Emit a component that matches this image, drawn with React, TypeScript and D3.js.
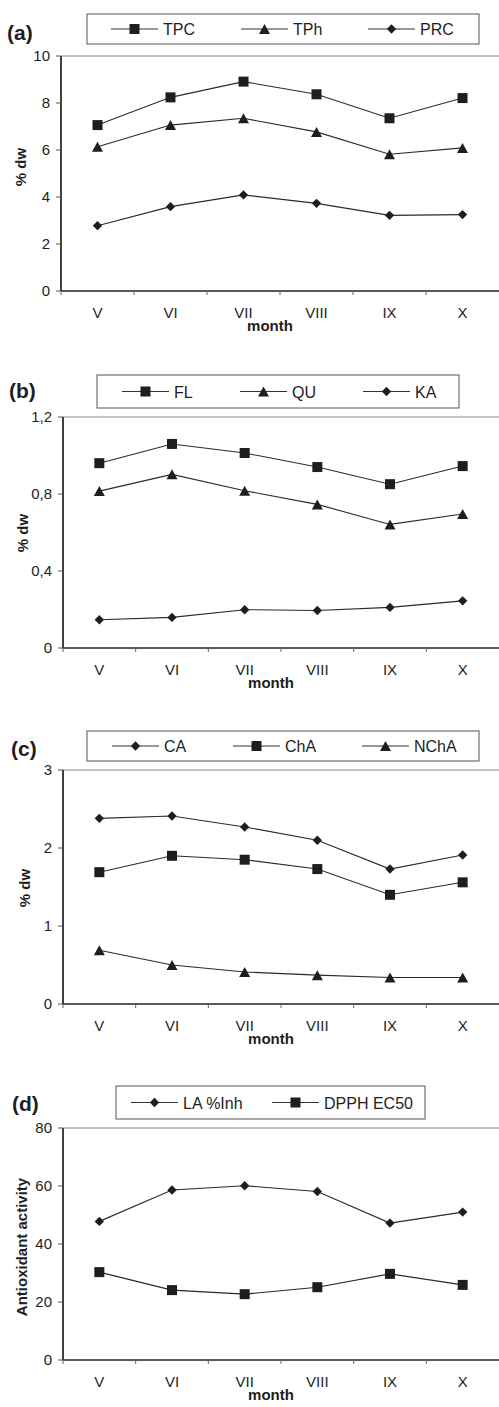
import React from 'react';
import * as d3 from 'd3';

const months = ["V", "VI", "VII", "VIII", "IX", "X"];

// panel (a)
const tpc = [7.06, 8.24, 8.91, 8.37, 7.35, 8.21];
const tph = [6.14, 7.06, 7.35, 6.77, 5.82, 6.09];
const prc = [2.78, 3.59, 4.09, 3.73, 3.22, 3.25];
const ticksA = [0, 2, 4, 6, 8, 10];

// panel (b)
const fl = [0.96, 1.06, 1.013, 0.94, 0.851, 0.945];
const qu = [0.815, 0.902, 0.817, 0.746, 0.642, 0.696];
const ka = [0.147, 0.159, 0.199, 0.195, 0.211, 0.245];
const ticksB = [0, 0.4, 0.8, 1.2];

// panel (c)
const ca = [2.38, 2.41, 2.27, 2.1, 1.73, 1.91];
const cha = [1.69, 1.9, 1.85, 1.73, 1.4, 1.56];
const ncha = [0.69, 0.5, 0.41, 0.37, 0.34, 0.34];
const ticksC = [0, 1, 2, 3];

// panel (d)
const la = [47.8, 58.6, 60.1, 58.1, 47.2, 51.0];
const dpph = [30.3, 24.1, 22.7, 25.1, 29.7, 25.9];
const ticksD = [0, 20, 40, 60, 80];

const FONT = "'Liberation Sans', Arial, sans-serif";
const INK = "#1e1e1e";

function Marker({ type, x, y }) {
    if (type === "square") {
        return <rect x={x - 5} y={y - 5} width={10} height={10} fill={INK} />;
    }
    if (type === "triangle") {
        // drawn around its box centre so the line meets it mid-height
        return <path d="M0,-5L5.5,5L-5.5,5Z" transform={`translate(${x},${y})`} fill={INK} />;
    }
    const p = d3.symbol(d3.symbolSquare, 44)();
    return <path d={p} transform={`translate(${x},${y}) rotate(45)`} fill={INK} />;
}

function Panel({ cfg }) {
    const { label, labelX, labelY, top, bottom, left, ticks, fmt, title, titleX, titleY,
        legend, series } = cfg;
    const right = 499;

    const x = d3.scaleBand().domain(months).range([left, right]).padding(0);
    const y = d3.scaleLinear().domain([ticks[0], ticks[ticks.length - 1]]).range([bottom, top]);
    const cx = (m) => x(m) + x.bandwidth() / 2;
    const line = d3.line().x((d, i) => cx(months[i])).y(d => y(d));
    const bounds = months.map(m => x(m));

    return (
        <g>
            <text x={labelX} y={labelY} fontSize={21} fontWeight="bold" fill={INK}>{label}</text>

            {/* legend */}
            <rect x={legend.x} y={legend.y} width={legend.w} height={legend.h}
                fill="white" stroke="#555" strokeWidth={1} />
            {series.map((s, i) => {
                const lx = legend.items[i];
                const ly = legend.y + legend.h / 2;
                return (
                    <g key={s.name}>
                        <line x1={lx} x2={lx + 47} y1={ly} y2={ly} stroke="#333" strokeWidth={1} />
                        <Marker type={s.marker} x={lx + 23.5} y={ly} />
                        <text x={lx + 52} y={ly + 6} fontSize={16} fill={INK}>{s.name}</text>
                    </g>
                );
            })}

            {/* frame */}
            <line x1={left} x2={right} y1={top} y2={top} stroke="#888" strokeWidth={1} />
            <line x1={left} x2={left} y1={top} y2={bottom} stroke="#111" strokeWidth={1.6} />
            <line x1={left} x2={right} y1={bottom} y2={bottom} stroke="#222" strokeWidth={1.6} />

            {ticks.map(t => (
                <g key={t}>
                    <line x1={left - 5} x2={left} y1={y(t)} y2={y(t)} stroke="#555" strokeWidth={1} />
                    <text x={left - 11} y={y(t)} dy="0.35em" textAnchor="end" fontSize={15} fill={INK}>
                        {fmt(t)}
                    </text>
                </g>
            ))}
            {bounds.map((b, i) => (
                <line key={i} x1={b} x2={b} y1={bottom} y2={bottom + 4} stroke="#666" strokeWidth={1} />
            ))}
            {months.map(m => (
                <text key={m} x={cx(m)} y={bottom + 27} textAnchor="middle" fontSize={15} fill={INK}>{m}</text>
            ))}
            <text x={(left + right) / 2 - 10} y={bottom + 40} textAnchor="middle" fontSize={15}
                fontWeight="bold" fill={INK}>month</text>
            <text transform={`translate(${titleX},${titleY}) rotate(-90)`} textAnchor="middle"
                dominantBaseline="central" fontSize={15} fontWeight="bold" fill={INK}>{title}</text>

            {series.map(s => (
                <g key={s.name}>
                    <path d={line(s.values)} fill="none" stroke="#2a2a2a" strokeWidth={1.1} />
                    {s.values.map((v, i) => (
                        <Marker key={i} type={s.marker} x={cx(months[i])} y={y(v)} />
                    ))}
                </g>
            ))}
        </g>
    );
}

const comma = (t) => String(t).replace(".", ",");

const panels = [
    {
        label: "(a)", labelX: 7, labelY: 40, top: 56, bottom: 291, left: 61,
        ticks: ticksA, fmt: String, title: "% dw", titleX: 20, titleY: 167,
        legend: { x: 87, y: 14, w: 392, h: 30, items: [111, 241, 368] },
        series: [
            { name: "TPC", values: tpc, marker: "square" },
            { name: "TPh", values: tph, marker: "triangle" },
            { name: "PRC", values: prc, marker: "diamond" },
        ],
    },
    {
        label: "(b)", labelX: 9, labelY: 398, top: 417, bottom: 648, left: 63,
        ticks: ticksB, fmt: comma, title: "% dw", titleX: 22, titleY: 533,
        legend: { x: 97, y: 375, w: 362, h: 33, items: [122, 240, 363] },
        series: [
            { name: "FL", values: fl, marker: "square" },
            { name: "QU", values: qu, marker: "triangle" },
            { name: "KA", values: ka, marker: "diamond" },
        ],
    },
    {
        label: "(c)", labelX: 11, labelY: 756, top: 770, bottom: 1004, left: 63,
        ticks: ticksC, fmt: String, title: "% dw", titleX: 24, titleY: 888,
        legend: { x: 87, y: 731, w: 392, h: 30, items: [112, 233, 362] },
        series: [
            { name: "CA", values: ca, marker: "diamond" },
            { name: "ChA", values: cha, marker: "square" },
            { name: "NChA", values: ncha, marker: "triangle" },
        ],
    },
    {
        label: "(d)", labelX: 12, labelY: 1111, top: 1128, bottom: 1360, left: 63,
        ticks: ticksD, fmt: String, title: "Antioxidant activity", titleX: 21, titleY: 1247,
        legend: { x: 116, y: 1086, w: 309, h: 33, items: [131, 272] },
        series: [
            { name: "LA %Inh", values: la, marker: "diamond" },
            { name: "DPPH EC50", values: dpph, marker: "square" },
        ],
    },
];

export default function App() {
    return (
        <svg width={499} height={1407} fontFamily={FONT}
            style={{ position: "absolute", left: 0, top: 0, background: "white" }}>
            <rect width={499} height={1407} fill="white" />
            {panels.map(p => <Panel key={p.label} cfg={p} />)}
        </svg>
    );
}
